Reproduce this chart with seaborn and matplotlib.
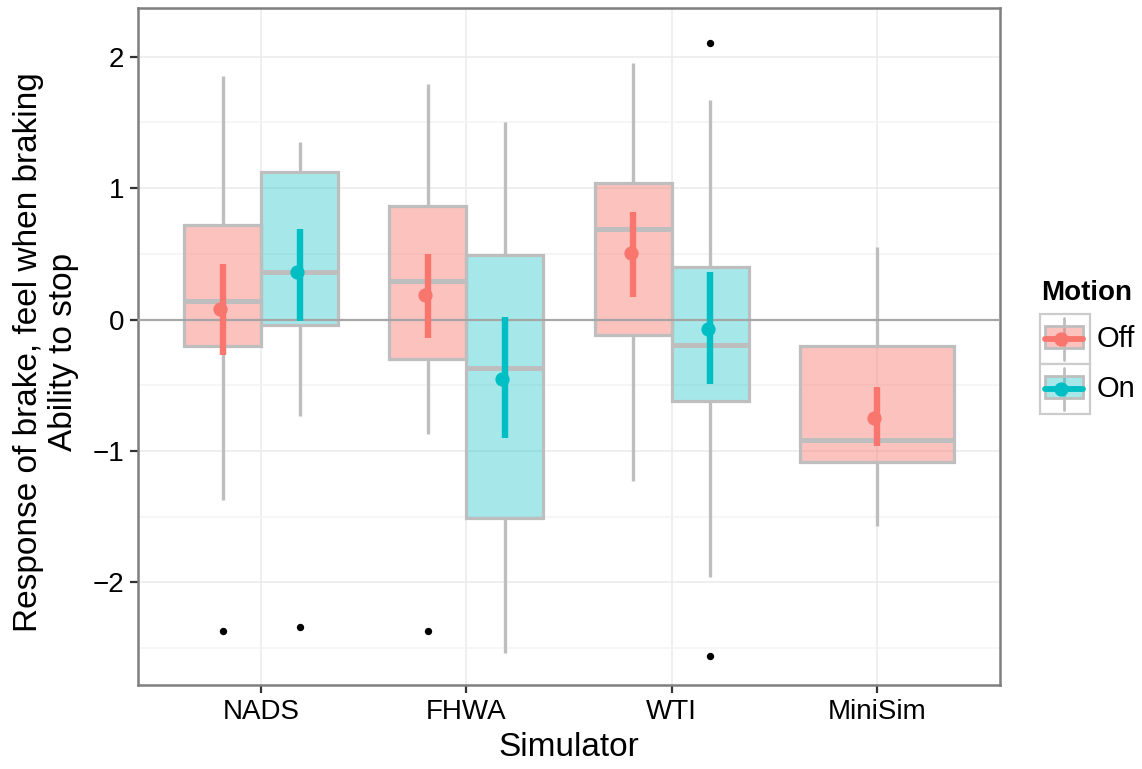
import numpy as np
import pandas as pd
import matplotlib
matplotlib.use("Agg")
import matplotlib.pyplot as plt
from matplotlib.patches import Rectangle
from matplotlib.lines import Line2D
from matplotlib.ticker import MultipleLocator
import seaborn as sns

# ---------------------------------------------------------------- data
simulators = ["NADS", "FHWA", "WTI", "MiniSim"]
motion_levels = ["Off", "On"]

# one entry per (simulator, motion) group
group_sim = ["NADS", "NADS", "FHWA", "FHWA", "WTI", "WTI", "MiniSim"]
group_motion = ["Off", "On", "Off", "On", "Off", "On", "Off"]

# box-and-whisker summaries
whisker_low = [-1.37, -0.73, -0.87, -2.54, -1.23, -1.96, -1.57]
quartile_1 = [-0.20, -0.04, -0.30, -1.51, -0.12, -0.62, -1.08]
median = [0.14, 0.36, 0.29, -0.37, 0.69, -0.19, -0.92]
quartile_3 = [0.72, 1.12, 0.86, 0.49, 1.04, 0.40, -0.20]
whisker_high = [1.85, 1.35, 1.79, 1.50, 1.95, 1.67, 0.55]

# group means with 95% confidence intervals
mean = [0.08, 0.36, 0.19, -0.45, 0.51, -0.07, -0.75]
ci_low = [-0.27, -0.01, -0.14, -0.90, 0.17, -0.49, -0.96]
ci_high = [0.42, 0.69, 0.50, 0.02, 0.82, 0.36, -0.51]

# outlying observations
outlier_sim = ["NADS", "NADS", "FHWA", "WTI", "WTI"]
outlier_motion = ["Off", "On", "Off", "On", "On"]
outlier_value = [-2.37, -2.34, -2.37, 2.10, -2.56]

# ---------------------------------------------------------------- style
sns.set_theme(style="ticks")
plt.rcParams["font.family"] = ["Liberation Sans", "DejaVu Sans"]
plt.rcParams["text.color"] = "black"

palette = {"Off": "#F8766D", "On": "#00BFC4"}
fill_alpha = {"Off": 0.44, "On": 0.35}
box_grey = "#BEBEBE"
BOX_WIDTH = 0.75

W, H = 1142, 769
fig = plt.figure(figsize=(W / 100, H / 100), dpi=100)
ax = fig.add_axes([138 / W, 84 / H, 862 / W, 677 / H])

# long-form table: the five summary values of each group reproduce its
# quartiles exactly and whis=(0, 100) puts the whiskers on the extremes
rows = []
for i in range(len(group_sim)):
    for v in (whisker_low[i], quartile_1[i], median[i], quartile_3[i], whisker_high[i]):
        rows.append({"Simulator": group_sim[i], "Motion": group_motion[i], "Response": v})
box_df = pd.DataFrame(rows)

levels_present = box_df.groupby("Simulator")["Motion"].nunique()
paired = box_df[box_df["Simulator"].map(levels_present) > 1]
single = box_df[box_df["Simulator"].map(levels_present) == 1]

box_kws = dict(
    x="Simulator", y="Response", hue="Motion",
    order=simulators, hue_order=motion_levels, palette=palette,
    width=BOX_WIDTH, gap=0, whis=(0, 100), showcaps=False, showfliers=False,
    saturation=1, linecolor=box_grey, linewidth=2.3,
    medianprops=dict(linewidth=3.6, color=box_grey),
    whiskerprops=dict(linewidth=2.4, color=box_grey),
    boxprops=dict(linewidth=2.3, edgecolor=box_grey),
    legend=False, ax=ax,
)
sns.boxplot(data=paired, dodge=True, **box_kws)
sns.boxplot(data=single, dodge=False, **box_kws)

# translucent box fills, opaque outlines
for patch in ax.patches:
    rgb = patch.get_facecolor()[:3]
    key = min(palette, key=lambda k: np.sum(np.abs(np.array(matplotlib.colors.to_rgb(palette[k])) - rgb)))
    patch.set_facecolor((*rgb, fill_alpha[key]))
    patch.set_edgecolor(box_grey)


def dodge_position(sim, motion):
    base = simulators.index(sim)
    if levels_present[sim] == 1:
        return base
    return base + (motion_levels.index(motion) - 0.5) * BOX_WIDTH / 2


ax.axhline(0, color="#A6A6A6", lw=1.6, zorder=3)

# mean and confidence interval for every group
for i in range(len(group_sim)):
    xpos = dodge_position(group_sim[i], group_motion[i])
    col = palette[group_motion[i]]
    ax.scatter([xpos - 0.012], [mean[i]], s=105, color=col, zorder=5, linewidths=0)
    ax.vlines(xpos, ci_low[i], ci_high[i], color=col, lw=4.6, zorder=6)

# outliers
ox = [dodge_position(s, m) for s, m in zip(outlier_sim, outlier_motion)]
ax.scatter(ox, outlier_value, s=28, color="black", zorder=5, linewidths=0)

# ---------------------------------------------------------------- axes
ax.set_xlim(-0.6, 3.6)
ax.set_ylim(-2.78, 2.37)
ax.set_xticks(range(len(simulators)))
ax.set_xticklabels(simulators)
ax.yaxis.set_major_locator(MultipleLocator(1))
ax.yaxis.set_minor_locator(MultipleLocator(0.5))
ax.set_axisbelow(True)
ax.grid(which="major", color="#EBEBEB", lw=1.1)
ax.grid(which="minor", axis="y", color="#F4F4F4", lw=1.1)
ax.tick_params(which="major", direction="out", length=6, width=1.6,
               color="#333333", labelsize=20, labelcolor="black", pad=4)
ax.tick_params(which="minor", length=0)
for sp in ax.spines.values():
    sp.set_visible(True)
    sp.set_color("#7F7F7F")
    sp.set_linewidth(1.8)
ax.set_xlabel("")
ax.set_ylabel("")

fig.text(569 / W, 1 - 748 / H, "Simulator", ha="center", va="center",
         fontsize=24, color="black")
fig.text(46 / W, 1 - 352 / H, "Response of brake, feel when braking\nAbility to stop",
         ha="center", va="center", rotation=90, fontsize=24, color="black",
         multialignment="center", linespacing=1.15)

# ---------------------------------------------------------------- legend
lg = fig.add_axes([0, 0, 1, 1], facecolor="none")
lg.set_xlim(0, W)
lg.set_ylim(H, 0)
lg.axis("off")
lg.text(1041, 293, "Motion", fontsize=20, fontweight="bold", ha="left",
        va="center", color="black")
for k, lvl in enumerate(motion_levels):
    top = 314 + 50 * k
    lg.add_patch(Rectangle((1040, top), 50, 50, facecolor="white",
                           edgecolor="#CCCCCC", lw=1.6, zorder=1))
    lg.add_line(Line2D([1064, 1064], [top + 4, top + 46], color=box_grey, lw=2, zorder=2))
    lg.add_patch(Rectangle((1045, top + 12), 38, 22,
                           facecolor=(*matplotlib.colors.to_rgb(palette[lvl]), fill_alpha[lvl]),
                           edgecolor=box_grey, lw=2, zorder=3))
    lg.add_line(Line2D([1045, 1083], [top + 25, top + 25], color=palette[lvl], lw=4.2, zorder=4))
    lg.scatter([1061], [top + 25], s=105, color=palette[lvl], zorder=5, linewidths=0)
    lg.text(1097, top + 25, lvl, fontsize=21, ha="left", va="center", color="black")

fig.savefig("out.png", dpi=100)
